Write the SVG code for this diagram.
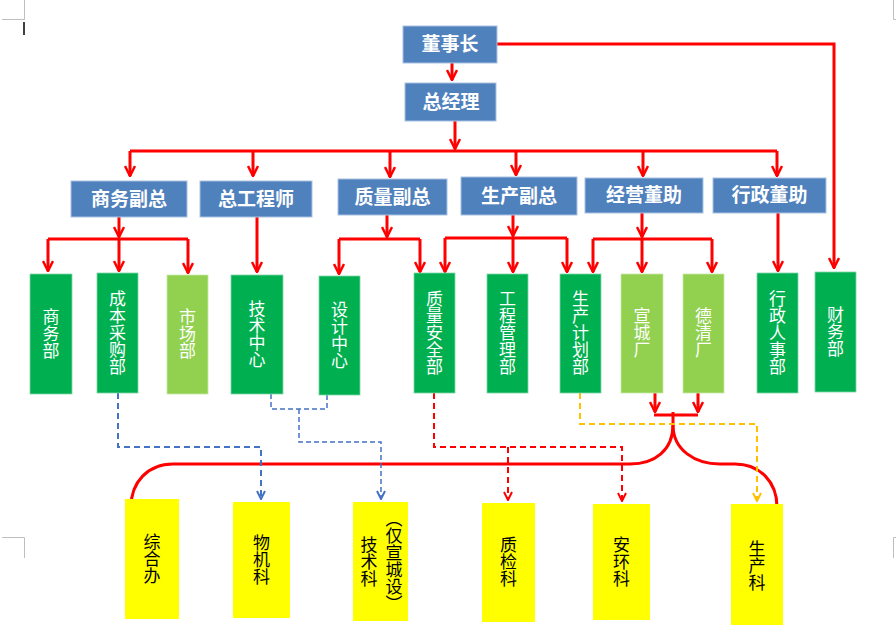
<svg xmlns="http://www.w3.org/2000/svg" width="896" height="633" viewBox="0 0 896 633">
<style>
.blue{fill:#4F81BD;stroke:#A9C2E2;stroke-width:1}
.g{fill:#00B050;stroke:#7FD7A7;stroke-width:0.8}
.lg{fill:#92D050;stroke:#C8E8A7;stroke-width:0.8}
.y{fill:#FFFF00}
.bt{font-family:"Noto Sans CJK SC","Noto Sans",sans-serif;font-size:19px;font-weight:bold;fill:#FFFFFF;text-anchor:middle}
.vt{font-family:"Noto Sans CJK SC","Noto Sans",sans-serif;font-size:17px;fill:#FFFFFF;text-anchor:middle;writing-mode:vertical-rl}
.yt{font-family:"Noto Sans CJK SC","Noto Sans",sans-serif;font-size:17px;fill:#000000;text-anchor:middle;writing-mode:vertical-rl}
.r{fill:none;stroke:#FF0000;stroke-width:3}
.ra{fill:none;stroke:#FF0000;stroke-width:3;marker-end:url(#ar)}
.bd{fill:none;stroke:#4472C4;stroke-width:2;stroke-dasharray:6 4}
.bd2{fill:none;stroke:#4472C4;stroke-width:1.5;stroke-dasharray:5 3}
.rd{fill:none;stroke:#FF0000;stroke-width:2;stroke-dasharray:6 4}
.od{fill:none;stroke:#FFC000;stroke-width:2;stroke-dasharray:6 4}
.mk{fill:none;stroke:#BFBFBF;stroke-width:1}
</style>
<defs>
<marker id="ar" viewBox="0 0 12 12" refX="11" refY="6" markerWidth="12" markerHeight="12" markerUnits="userSpaceOnUse" orient="auto"><path d="M1,1 L11,6 L1,11" fill="none" stroke="#FF0000" stroke-width="2.5"/></marker>
<marker id="ab" viewBox="0 0 10 10" refX="9" refY="5" markerWidth="10" markerHeight="10" markerUnits="userSpaceOnUse" orient="auto"><path d="M1,1 L9,5 L1,9" fill="none" stroke="#4472C4" stroke-width="2"/></marker>
<marker id="adr" viewBox="0 0 10 10" refX="9" refY="5" markerWidth="10" markerHeight="10" markerUnits="userSpaceOnUse" orient="auto"><path d="M1,1 L9,5 L1,9" fill="none" stroke="#FF0000" stroke-width="2"/></marker>
<marker id="ao" viewBox="0 0 10 10" refX="9" refY="5" markerWidth="10" markerHeight="10" markerUnits="userSpaceOnUse" orient="auto"><path d="M1,1 L9,5 L1,9" fill="none" stroke="#FFC000" stroke-width="2"/></marker>
</defs>
<rect width="896" height="633" fill="#FFFFFF"/>
<g id="page-marks">
<path class="mk" d="M2,19.5 H24.5 V0"/>
<path class="mk" d="M2,537.5 H24.5 V558"/>
<path class="mk" d="M896,19.5 H893.5 V0"/>
<path class="mk" d="M896,537.5 H893.5 V558"/>
<line x1="24" y1="22" x2="24" y2="35" stroke="#000000" stroke-width="1.5"/>
</g>
<g id="connectors">
<path class="ra" d="M452,63 V80"/>
<path class="ra" d="M455,121 V149"/>
<path class="r" d="M130,151 H777"/>
<path class="ra" d="M130,151 V176"/>
<path class="ra" d="M253,151 V176"/>
<path class="ra" d="M390,151 V177"/>
<path class="ra" d="M516,151 V175"/>
<path class="ra" d="M643,151 V176"/>
<path class="ra" d="M777,151 V176"/>
<path class="ra" d="M497,44 H834 V268"/>
<path class="ra" d="M119,217 V237"/>
<path class="r" d="M48,239 H188"/>
<path class="ra" d="M48,239 V271"/>
<path class="ra" d="M119,239 V271"/>
<path class="ra" d="M188,239 V273"/>
<path class="ra" d="M257,217 V272"/>
<path class="ra" d="M387,215 V237"/>
<path class="r" d="M339,239 H420"/>
<path class="ra" d="M339,239 V274"/>
<path class="ra" d="M420,239 V272"/>
<path class="ra" d="M513,215 V236"/>
<path class="r" d="M445,238 H567"/>
<path class="ra" d="M445,238 V272"/>
<path class="ra" d="M513,238 V272"/>
<path class="ra" d="M567,238 V272"/>
<path class="ra" d="M642,213 V237"/>
<path class="r" d="M593,239 H712"/>
<path class="ra" d="M593,239 V272"/>
<path class="ra" d="M642,239 V272"/>
<path class="ra" d="M712,239 V272"/>
<path class="ra" d="M778,213 V271"/>
<path class="ra" d="M655,393 V412"/>
<path class="ra" d="M698,393 V412"/>
<path class="r" d="M654,415 H698"/>
<path class="r" d="M673,412 V425 C673,450 655,464 630,464 H173 C148,464 131,482 131,507"/>
<path class="r" d="M673,425 C673,450 695,464 720,464 H735 C760,464 777,482 777,507"/>
<path class="bd" d="M118,393 V447 H261 V499" marker-end="url(#ab)"/>
<path class="bd2" d="M271,394 V409 H327 V395"/>
<path class="bd2" d="M299,409 V442 H381 V499" marker-end="url(#ab)"/>
<path class="rd" d="M434,393 V447 H622 V501" marker-end="url(#adr)"/>
<path class="rd" d="M508,447 V500" marker-end="url(#adr)"/>
<path class="od" d="M580,393 V424 H757 V501" marker-end="url(#ao)"/>
</g>
<g id="n-dongshizhang"><rect class="blue" x="403" y="26" width="94" height="37"/><text class="bt" x="450" y="51">董事长</text></g>
<g id="n-zongjingli"><rect class="blue" x="405" y="83" width="91" height="38"/><text class="bt" x="451" y="109">总经理</text></g>
<g id="n-shangwufuzong"><rect class="blue" x="71" y="181" width="116" height="36"/><text class="bt" x="129" y="206">商务副总</text></g>
<g id="n-zonggongchengshi"><rect class="blue" x="200" y="181" width="112" height="36"/><text class="bt" x="256" y="206">总工程师</text></g>
<g id="n-zhiliangfuzong"><rect class="blue" x="338" y="179" width="109" height="36"/><text class="bt" x="392.5" y="204">质量副总</text></g>
<g id="n-shengchanfuzong"><rect class="blue" x="461" y="177" width="116" height="38"/><text class="bt" x="519" y="203">生产副总</text></g>
<g id="n-jingyingdongzhu"><rect class="blue" x="585" y="178" width="118" height="35"/><text class="bt" x="644" y="202">经营董助</text></g>
<g id="n-xingzhengdongzhu"><rect class="blue" x="713" y="178" width="113" height="35"/><text class="bt" x="769.5" y="202">行政董助</text></g>
<g id="n-shangwubu"><rect class="g" x="30" y="274" width="42" height="120"/><text class="vt" x="51" y="334">商务部</text></g>
<g id="n-chengbencaigoubu"><rect class="g" x="97" y="273" width="41" height="120"/><text class="vt" x="117.5" y="333">成本采购部</text></g>
<g id="n-shichangbu"><rect class="lg" x="167" y="275" width="41" height="119"/><text class="vt" x="187.5" y="334">市场部</text></g>
<g id="n-jishuzhongxin"><rect class="g" x="231" y="275" width="52" height="119"/><text class="vt" x="257" y="334">技术中心</text></g>
<g id="n-shejizhongxin"><rect class="g" x="319" y="276" width="41" height="119"/><text class="vt" x="339.5" y="335">设计中心</text></g>
<g id="n-zhilianganquanbu"><rect class="g" x="414" y="273" width="41" height="120"/><text class="vt" x="434.5" y="333">质量安全部</text></g>
<g id="n-gongchengguanlibu"><rect class="g" x="487" y="274" width="41" height="119"/><text class="vt" x="507.5" y="333">工程管理部</text></g>
<g id="n-shengchanjihuabu"><rect class="g" x="560" y="274" width="41" height="119"/><text class="vt" x="580.5" y="333">生产计划部</text></g>
<g id="n-xuanchengchang"><rect class="lg" x="621" y="274" width="42" height="119"/><text class="vt" x="642" y="333">宣城厂</text></g>
<g id="n-deqingchang"><rect class="lg" x="683" y="274" width="41" height="119"/><text class="vt" x="703.5" y="333">德清厂</text></g>
<g id="n-xingzhengrenshibu"><rect class="g" x="757" y="273" width="41" height="120"/><text class="vt" x="777.5" y="333">行政人事部</text></g>
<g id="n-caiwubu"><rect class="g" x="815" y="272" width="41" height="120"/><text class="vt" x="835.5" y="332">财务部</text></g>
<g id="n-zongheban"><rect class="y" x="125" y="499" width="54" height="120"/><text class="yt" x="152" y="559">综合办</text></g>
<g id="n-wujike"><rect class="y" x="233" y="502" width="57" height="116"/><text class="yt" x="261.5" y="560">物机科</text></g>
<g id="n-jishuke"><rect class="y" x="353" y="502" width="55" height="119"/><text class="yt" x="369" y="562">技术科</text><text class="yt" x="394" y="561">（仅宣城设）</text></g>
<g id="n-zhijianke"><rect class="y" x="482" y="503" width="53" height="119"/><text class="yt" x="508.5" y="562">质检科</text></g>
<g id="n-anhuanke"><rect class="y" x="593" y="504" width="57" height="116"/><text class="yt" x="621.5" y="562">安环科</text></g>
<g id="n-shengchanke"><rect class="y" x="731" y="504" width="52" height="121"/><text class="yt" x="757" y="566">生产科</text></g>
</svg>
